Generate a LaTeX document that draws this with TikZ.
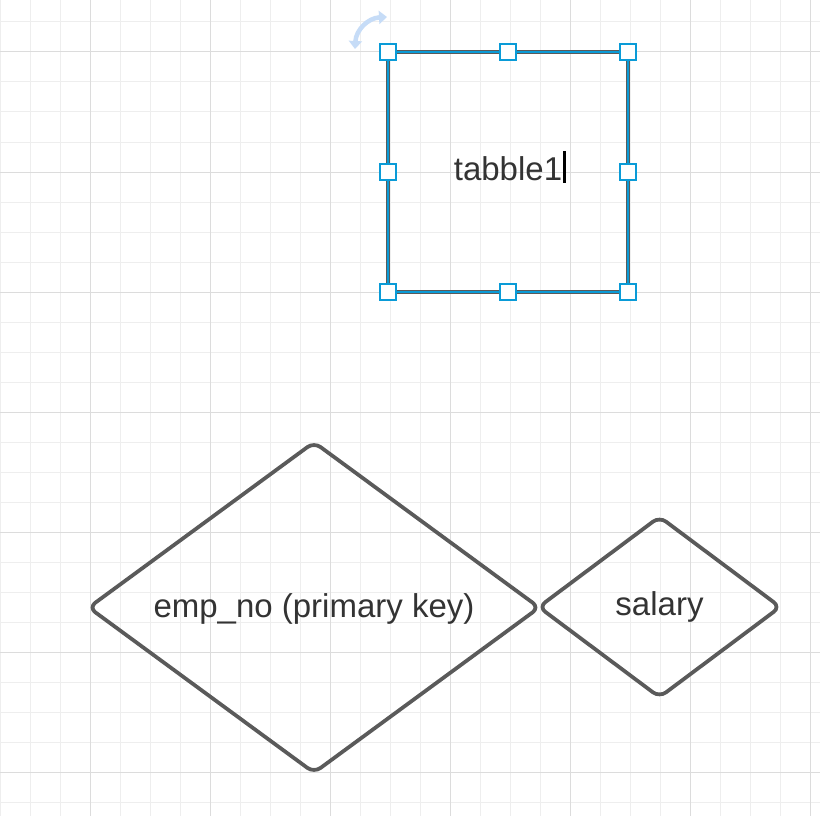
\documentclass[tikz,border=0pt]{standalone}
\usepackage{fontspec}
\setmainfont{Liberation Sans}
\usetikzlibrary{shapes.geometric, arrows.meta}

\definecolor{shapegray}{HTML}{5A5A5A}
\definecolor{textgray}{HTML}{333333}
\definecolor{selblue}{HTML}{0A9BD7}
\definecolor{rotblue}{HTML}{C6DCF7}
\definecolor{gridminor}{HTML}{EEEEEE}
\definecolor{gridmajor}{HTML}{DCDCDC}

\begin{document}
\begin{tikzpicture}
	[x = 1pt, y = -1pt,
	label text/.style={font=\fontsize{33}{40}\selectfont, text=textgray, text depth=0.42em},
	entity/.style={label text, draw=shapegray, line width=3.75pt, minimum size=240pt, outer sep=0pt, text depth=0.6em},
	attribute/.style={label text, diamond, draw=shapegray, line width=3.75pt, rounded corners=8pt, inner sep=2pt},
	handle/.style={draw=selblue, fill=white, line width=2.5pt, minimum size=16pt, inner sep=0pt}]
	
	% Draw background
	\fill[white] (0, 0) rectangle (820, 816);
	\clip (0, 0) rectangle (820, 816);
	
	% Draw grid
	\foreach \x in {0, 30, ..., 810}
		\draw[gridminor, line width=1pt] (\x, 0) -- (\x, 816);
	\foreach \y in {22, 52, ..., 802}
		\draw[gridminor, line width=1pt] (0, \y) -- (820, \y);
	\foreach \x in {90, 210, ..., 810}
		\draw[gridmajor, line width=1pt] (\x, 0) -- (\x, 816);
	\foreach \y in {52, 172, ..., 772}
		\draw[gridmajor, line width=1pt] (0, \y) -- (820, \y);
	
	% Draw table
	\node[entity] (table1) at (508, 172) {tabble1};
	\draw[selblue, line width=1.7pt, shift={(1.5, 1.5)}] (table1.north west) rectangle (table1.south east);
	
	% Draw text cursor
	\draw[black, line width=3pt] (564.5, 151) -- (564.5, 183);
	
	% Draw selection handles
	\foreach \a in {north west, north, north east, west, east, south west, south, south east}
		\node[handle] (handle \a) at (table1.\a) {};
	
	% Draw rotation arrow
	\draw[rotblue, line width=4.5pt, {Triangle[width=13pt, length=8pt]}-{Triangle[width=13pt, length=8pt]}]
		(355, 49) .. controls (356, 30) and (368, 18) .. (387, 17);
	
	% Draw attributes
	\node[attribute, aspect=1.36, minimum width=452pt, minimum height=332pt] (empno) at (314, 607.5) {emp\_no (primary key)};
	\node[attribute, aspect=1.34, minimum width=243pt, minimum height=182pt, text depth=0.6em] (salary) at (659.5, 607) {salary};
	
\end{tikzpicture}
\end{document}
